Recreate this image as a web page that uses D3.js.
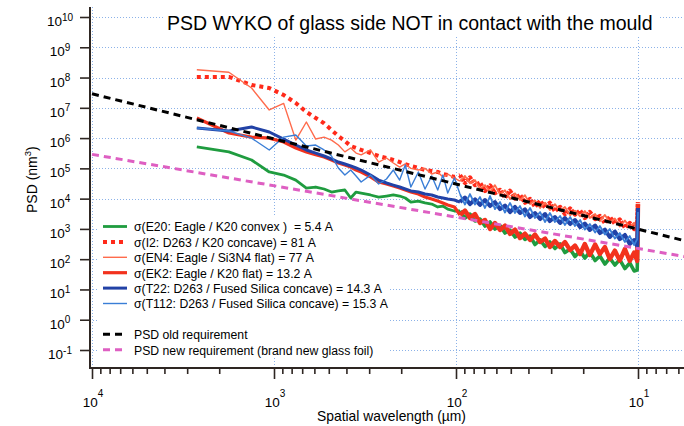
<!DOCTYPE html>
<html>
<head>
<meta charset="utf-8">
<script src="https://cdn.jsdelivr.net/npm/d3@7"></script>
<style>
  body { margin: 0; background: #fff; }
  svg { display: block; }
  text { font-family: "Liberation Sans", Arial, Helvetica, sans-serif; fill: #000; }
</style>
</head>
<body>
<svg id="chart" width="684" height="426"></svg>
<script>
// ---------------- DATA ----------------
const wavelength = [2655, 1770, 1328, 1062, 885, 759, 664, 590, 531, 483, 443, 408, 379, 354, 332, 295, 266, 241, 221, 204, 190, 177, 161, 148, 136, 126, 118, 111, 102,
  95.1, 89.3, 83.8, 78.6, 73.8, 69.3, 65.0, 61.1, 57.3, 53.8, 50.5, 47.4, 44.5, 41.8, 39.2, 36.8, 34.5, 32.4, 30.5, 28.6,
  26.8, 25.2, 23.6, 22.2, 20.8, 19.6, 18.4, 17.2, 16.2, 15.2, 14.3, 13.4, 12.6, 11.8, 11.1, 10.5, 10.1, 10.0];

const psdE20 = [5.1e5, 3.5e5, 1.89e5, 7.6e4, 6.0e4, 4.1e4, 2.24e4, 2.42e4, 2.08e4, 1.65e4, 1.8e4, 1.93e4, 1.05e4, 1.65e4, 1.53e4, 1.32e4, 1.13e4, 1.22e4, 1.32e4, 1.22e4, 1.05e4, 7.7e3, 8.3e3, 7.2e3, 6.6e3, 5.3e3, 5.7e3, 4.5e3, 3.9e3,
  3.9e3, 2.29e3, 3.1e3, 1.82e3, 2.12e3, 1.25e3, 1.69e3, 9.9e2, 1.29e3, 7.3e2, 9.2e2, 5.4e2, 7.3e2, 4.5e2, 5.8e2, 3.05e2, 4.3e2, 2.62e2, 3.7e2, 2.25e2,
  3.17e2, 1.66e2, 2.17e2, 1.22e2, 1.86e2, 1.09e2, 1.72e2, 9.0e1, 1.27e2, 6.9e1, 1.09e2, 6.4e1, 9.7e1, 4.9e1, 7.5e1, 4.1e1, 4.4e1, 9.2e2];

const psdI2 = [1.05e8, 1.05e8, 5.7e7, 4.5e7, 2.65e7, 1.44e7, 7.3e6, 4.6e6, 3.1e6, 1.85e6, 1.17e6, 8.0e5, 5.5e5, 4.7e5, 4.05e5, 3.2e5, 2.56e5, 2.2e5, 1.89e5, 1.62e5, 1.39e5, 1.2e5, 1.03e5, 8.8e4, 8.2e4, 7.6e4, 6.5e4, 6.0e4, 5.2e4,
  6.0e4, 3.3e4, 5.0e4, 2.8e4, 3.3e4, 1.8e4, 2.7e4, 1.53e4, 1.93e4, 1.09e4, 1.8e4, 1.01e4, 1.32e4, 7.4e3, 9.7e3, 5.5e3, 8.3e3, 5.1e3, 7.2e3, 3.9e3,
  5.3e3, 3.1e3, 4.7e3, 3.0e3, 4.0e3, 2.3e3, 3.6e3, 2.12e3, 2.67e3, 1.57e3, 2.47e3, 1.5e3, 2.04e3, 1.11e3, 1.57e3, 9.9e2, 1.45e3, 7.7e3];

const psdEN4 = [1.8e8, 1.5e8, 4.5e7, 8.5e6, 1.4e7, 8.6e5, 3.4e6, 9.3e5, 1.08e6, 8.6e5, 5.9e5, 3.5e5, 4.7e5, 3.2e5, 2.8e5, 4.1e5, 1.6e5, 2.2e5, 1.5e5, 1.1e5, 1.4e5, 1.0e5, 8.8e4, 1.0e5, 6.5e4, 7.6e4, 5.2e4, 6.5e4, 4.8e4,
  3.8e4, 5.6e4, 3.2e4, 4.1e4, 2.1e4, 2.8e4, 1.7e4, 2.8e4, 1.4e4, 1.9e4, 9.7e3, 1.5e4, 9.0e3, 1.3e4, 6.6e3, 8.7e3, 4.9e3, 7.4e3, 4.2e3, 6.6e3,
  3.9e3, 5.3e3, 2.8e3, 4.0e3, 2.6e3, 3.9e3, 2.3e3, 3.1e3, 1.8e3, 2.9e3, 1.7e3, 2.2e3, 1.2e3, 1.9e3, 1.15e3, 1.6e3, 9.2e2, 6.2e3];

const psdEK2 = [4.6e6, 1.47e6, 1.08e6, 1.0e6, 7.4e5, 4.7e5, 3.5e5, 2.8e5, 2.37e5, 1.89e5, 1.5e5, 1.29e5, 1.11e5, 8.8e4, 7.6e4, 5.2e4, 3.54e4, 3.04e4, 2.6e4, 2.24e4, 1.93e4, 1.65e4, 1.42e4, 1.13e4, 9.7e3, 8.3e3, 7.2e3, 6.2e3, 5.3e3,
  2.88e3, 4.05e3, 2.29e3, 3.1e3, 1.57e3, 1.97e3, 9.9e2, 1.57e3, 9.2e2, 1.29e3, 6.8e2, 9.5e2, 5.0e2, 7.0e2, 4.3e2, 6.5e2, 3.7e2, 4.8e2, 2.52e2, 4.0e2,
  2.52e2, 3.7e2, 2.0e2, 2.83e2, 1.48e2, 3.17e2, 1.37e2, 3.05e2, 1.48e2, 2.52e2, 1.01e2, 1.93e2, 9.0e1, 2.17e2, 8.7e1, 1.66e2, 8.7e1, 6.6e3];

const psdT22 = [2.15e6, 1.71e6, 2.32e6, 1.59e6, 9.3e5, 5.9e5, 4.05e5, 3.2e5, 2.56e5, 2.04e5, 1.62e5, 1.39e5, 1.2e5, 1.03e5, 8.8e4, 6.0e4, 4.1e4, 3.28e4, 2.8e4, 2.42e4, 2.08e4, 1.8e4, 1.65e4, 1.42e4, 1.32e4, 1.13e4, 1.05e4, 9.7e3, 9.0e3,
  7.7e3, 1.09e4, 6.6e3, 9.4e3, 6.2e3, 9.0e3, 5.7e3, 7.7e3, 4.5e3, 5.9e3, 3.6e3, 5.3e3, 3.35e3, 4.4e3, 2.47e3, 3.35e3, 2.12e3, 3.1e3, 1.82e3, 2.47e3,
  1.57e3, 2.29e3, 1.45e3, 1.97e3, 1.15e3, 1.5e3, 9.2e2, 1.29e3, 7.3e2, 9.5e2, 5.4e2, 8.2e2, 4.6e2, 6.3e2, 3.17e2, 4.3e2, 2.72e2, 4.9e3];

const psdT112 = [2.15e6, 1.71e6, 1.0e6, 4.05e5, 1.08e6, 1.26e6, 5.5e5, 5.9e5, 4.05e5, 2.56e5, 1.03e5, 6.0e4, 8.8e4, 5.6e4, 3.54e4, 6.0e4, 3.04e4, 4.45e4, 8.8e4, 4.1e4, 1.29e5, 2.42e4, 7.6e4, 2.08e4, 5.6e4, 1.93e4, 6.0e4, 1.53e4, 4.8e4,
  1.42e4, 6.4e3, 1.42e4, 6.4e3, 1.13e4, 4.9e3, 1.22e4, 4.5e3, 7.7e3, 3.48e3, 7.2e3, 3.35e3, 5.7e3, 2.57e3, 4.9e3, 2.29e3, 3.6e3, 1.69e3, 3.35e3, 1.69e3,
  2.67e3, 1.34e3, 2.47e3, 1.25e3, 1.97e3, 9.5e2, 1.45e3, 7.6e2, 1.25e3, 6.5e2, 9.9e2, 4.8e2, 7.3e2, 3.7e2, 5.8e2, 2.94e2, 4.6e2, 3.6e3];

const reqWavelength = [1e4, 5];
const psdOldReq = [2.9e7, 3.5e2];
const psdNewReq = [2.9e5, 1.1e2];

const seriesLabels = [
  "σ(E20: Eagle / K20 convex )  = 5.4 A",
  "σ(I2: D263 / K20 concave) = 81 A",
  "σ(EN4: Eagle / Si3N4 flat) = 77 A",
  "σ(EK2: Eagle / K20 flat) = 13.2 A",
  "σ(T22: D263 / Fused Silica concave) = 14.3 A",
  "σ(T112: D263 / Fused Silica concave) = 15.3 A",
  "PSD old requirement",
  "PSD new requirement (brand new glass foil)"
];
const xTickValues = [1e4, 1e3, 1e2, 1e1];
const xTickExponents = ["4", "3", "2", "1"];
const yTickValues = [1e10, 1e9, 1e8, 1e7, 1e6, 1e5, 1e4, 1e3, 1e2, 1e1, 1e0, 1e-1];
const yTickExponents = ["10", "9", "8", "7", "6", "5", "4", "3", "2", "1", "0", "-1"];
const titleText = "PSD WYKO of glass side NOT in contact with the mould";
const xTitle = "Spatial wavelength (µm)";

// ---------------- LAYOUT / STYLE ----------------
const W = 684, H = 426;
const plotL = 90, plotR = 684, plotT = 7, plotB = 368;
const denseFrom = 29; // index where the densely sampled (noisy) part begins
const svg = d3.select("#chart");
svg.append("rect").attr("width", W).attr("height", H).attr("fill", "#fff");

const x = d3.scaleLog().domain([1e4, 10]).range([92, 638]);
const y = d3.scaleLog().domain([1e10, 1e-1]).range([17, 350]);

svg.append("defs").append("clipPath").attr("id", "plotclip")
  .append("rect").attr("x", plotL).attr("y", plotT).attr("width", plotR - plotL).attr("height", plotB - plotT);

// grid
const grid = svg.append("g").attr("stroke", "#8cb2e8").attr("stroke-width", 1).attr("stroke-dasharray", "1,2");
yTickValues.forEach(v => {
  const yy = Math.round(y(v)) + 0.5;
  grid.append("line").attr("x1", plotL).attr("x2", plotR).attr("y1", yy).attr("y2", yy);
});
xTickValues.forEach(v => {
  const xx = Math.round(x(v)) + 0.5;
  grid.append("line").attr("x1", xx).attr("x2", xx).attr("y1", plotT).attr("y2", plotB);
});

// title background + title
svg.append("rect").attr("x", 163).attr("y", 4).attr("width", 495).attr("height", 33).attr("fill", "#fff");
const title = svg.append("text").attr("x", 167).attr("y", 30).attr("font-size", 19).text(titleText);

// legend background
svg.append("rect").attr("x", 98).attr("y", 215).attr("width", 291).attr("height", 141).attr("fill", "#fff");

// series (dense part drawn a little heavier, as the original's densely sampled noise fills a band)
const series = [
  { values: psdE20, color: "#1f9c3f", width: 2.8, dash: null, denseWidth: 3.6, denseDash: null },
  { values: psdI2, color: "#ff2a1a", width: 4, dash: "4,4", denseWidth: 4.4, denseDash: "3,1" },
  { values: psdEN4, color: "#ff6b4c", width: 1.4, dash: null, denseWidth: 1.8, denseDash: null },
  { values: psdEK2, color: "#f2321d", width: 3.2, dash: null, denseWidth: 4.4, denseDash: null },
  { values: psdT22, color: "#2242a6", width: 3.0, dash: null, denseWidth: 4.0, denseDash: null },
  { values: psdT112, color: "#3a7ed6", width: 1.4, dash: null, denseWidth: 1.8, denseDash: null }
];
const reqs = [
  { values: psdOldReq, color: "#000000", width: 3, dash: "7,5" },
  { values: psdNewReq, color: "#de5fc2", width: 3, dash: "7,5" }
];

const line = d3.line().x(d => x(d[0])).y(d => y(d[1]));
const plot = svg.append("g").attr("clip-path", "url(#plotclip)");
series.forEach(s => {
  const pts = wavelength.map((w, i) => [w, s.values[i]]);
  const parts = [
    [pts.slice(0, denseFrom + 1), s.dash, s.width],
    [pts.slice(denseFrom), s.denseDash, s.denseWidth]
  ];
  parts.forEach(([p, dash, sw]) => {
    plot.append("path")
      .datum(p)
      .attr("d", line).attr("fill", "none")
      .attr("stroke", s.color).attr("stroke-width", sw)
      .attr("stroke-linejoin", "round")
      .attr("stroke-dasharray", dash);
  });
});
reqs.forEach(s => {
  plot.append("path")
    .datum(reqWavelength.map((w, i) => [w, s.values[i]]))
    .attr("d", line).attr("fill", "none")
    .attr("stroke", s.color).attr("stroke-width", s.width)
    .attr("stroke-dasharray", s.dash);
});

// axes
const axisColor = "#2e2622";
const xAll = x.copy().domain([x.invert(plotL), x.invert(plotR)]).range([plotL, plotR]);
const isPow10 = v => Math.abs(Math.log10(v) - Math.round(Math.log10(v))) < 1e-9;
const minorX = xAll.ticks().filter(v => !isPow10(v));

const gxMinor = svg.append("g").attr("transform", `translate(0,${plotB})`)
  .call(d3.axisBottom(x).tickValues(minorX).tickSize(6).tickFormat(""));
const gxMajor = svg.append("g").attr("transform", `translate(0,${plotB})`)
  .call(d3.axisBottom(x).tickValues(xTickValues).tickSize(11).tickFormat(""));
const gy = svg.append("g").attr("transform", `translate(${plotL},0)`)
  .call(d3.axisLeft(y).tickValues(yTickValues).tickSize(10).tickFormat(""));
[gxMinor, gxMajor, gy].forEach(g => {
  g.select(".domain").remove();
  g.selectAll(".tick line").attr("stroke", axisColor).attr("stroke-width", 1.6);
});
svg.append("line").attr("x1", plotL).attr("x2", plotL).attr("y1", plotT).attr("y2", plotB + 1)
  .attr("stroke", axisColor).attr("stroke-width", 2);
svg.append("line").attr("x1", plotL - 1).attr("x2", plotR).attr("y1", plotB).attr("y2", plotB)
  .attr("stroke", axisColor).attr("stroke-width", 2);

// tick labels
yTickValues.forEach((v, i) => {
  const t = svg.append("text").attr("x", 60).attr("y", y(v) + 9).attr("text-anchor", "middle").attr("font-size", 13.5);
  t.append("tspan").text("10");
  t.append("tspan").attr("dy", -5.5).attr("font-size", 10).text(yTickExponents[i]);
});
xTickValues.forEach((v, i) => {
  const t = svg.append("text").attr("x", x(v) + 1).attr("y", 406.5).attr("text-anchor", "middle").attr("font-size", 13.5);
  t.append("tspan").text("10");
  t.append("tspan").attr("dy", -10).attr("font-size", 10).text(xTickExponents[i]);
});

// axis titles
const xt = svg.append("text").attr("x", 317).attr("y", 421).attr("font-size", 14).text(xTitle);
const yt = svg.append("text").attr("transform", "translate(37,213) rotate(-90)").attr("font-size", 14);
yt.append("tspan").text("PSD (nm");
yt.append("tspan").attr("dy", -6).attr("font-size", 9.5).text("3");
yt.append("tspan").attr("dy", 6).text(")");

// legend
const legendStyles = series.concat(reqs);
const rowIdx = [0, 1, 2, 3, 4, 5, 7, 8];
const legendTexts = [];
seriesLabels.forEach((lab, i) => {
  const cy = 226.5 + 15.4 * rowIdx[i];
  const s = legendStyles[i];
  svg.append("line").attr("x1", 103).attr("x2", 127).attr("y1", cy).attr("y2", cy)
    .attr("stroke", s.color).attr("stroke-width", s.width).attr("stroke-dasharray", s.dash);
  legendTexts.push(svg.append("text").attr("x", 134).attr("y", cy + 4.8).attr("font-size", 13)
    .style("white-space", "pre").text(lab));
});

// fit text widths to the reference
function fit(sel, target) {
  const w = sel.node().getComputedTextLength();
  if (w > 0) sel.attr("font-size", (+sel.attr("font-size")) * target / w);
}
fit(title, 486);
fit(xt, 149);
const w6 = legendTexts[5].node().getComputedTextLength();
const lfs = 13 * 254 / w6;
legendTexts.forEach(t => t.attr("font-size", lfs));
</script>
</body>
</html>
